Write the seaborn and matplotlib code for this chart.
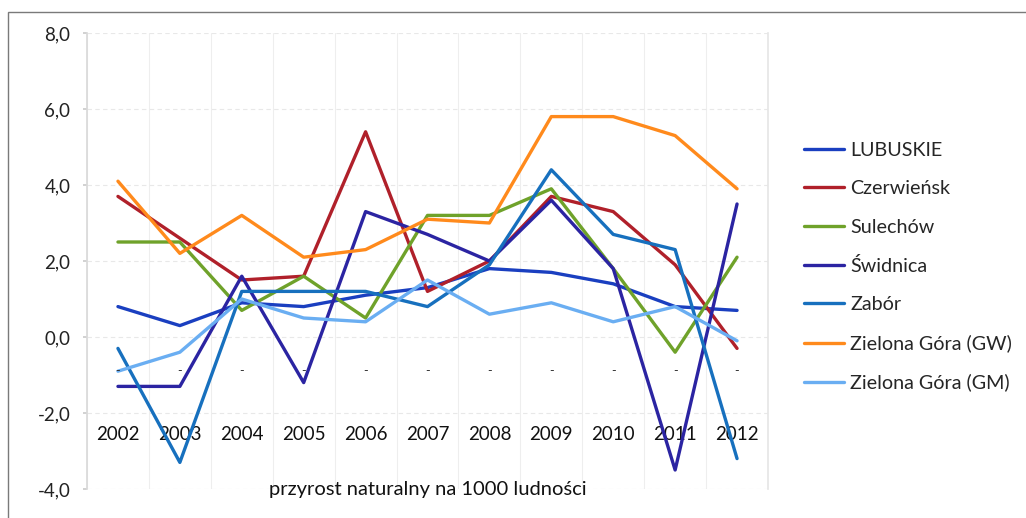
import numpy as np
import pandas as pd
import matplotlib
matplotlib.use("Agg")
import matplotlib.pyplot as plt
import seaborn as sns
from matplotlib.ticker import FuncFormatter, FixedLocator
from matplotlib.patches import Rectangle

years = ["2002", "2003", "2004", "2005", "2006", "2007", "2008", "2009", "2010", "2011", "2012"]

lubuskie = [0.8, 0.3, 0.9, 0.8, 1.1, 1.3, 1.8, 1.7, 1.4, 0.8, 0.7]
czerwiensk = [3.7, 2.6, 1.5, 1.6, 5.4, 1.2, 2.0, 3.7, 3.3, 1.9, -0.3]
sulechow = [2.5, 2.5, 0.7, 1.6, 0.5, 3.2, 3.2, 3.9, 1.8, -0.4, 2.1]
swidnica = [-1.3, -1.3, 1.6, -1.2, 3.3, 2.7, 2.0, 3.6, 1.8, -3.5, 3.5]
zabor = [-0.3, -3.3, 1.2, 1.2, 1.2, 0.8, 1.9, 4.4, 2.7, 2.3, -3.2]
zg_gw = [4.1, 2.2, 3.2, 2.1, 2.3, 3.1, 3.0, 5.8, 5.8, 5.3, 3.9]
zg_gm = [-0.9, -0.4, 1.0, 0.5, 0.4, 1.5, 0.6, 0.9, 0.4, 0.8, -0.1]

series_names = ["LUBUSKIE", "Czerwieńsk", "Sulechów", "Świdnica", "Zabór",
                "Zielona Góra (GW)", "Zielona Góra (GM)"]
series_values = [lubuskie, czerwiensk, sulechow, swidnica, zabor, zg_gw, zg_gm]
colors = ["#1A3FC0", "#B0202A", "#6FA22A", "#2B24A2", "#1770BE", "#FF8A1C", "#6AAEF2"]

y_ticks = [-4.0, -2.0, 0.0, 2.0, 4.0, 6.0, 8.0]
x_title = "przyrost naturalny na 1000 ludności"

rows = []
for name, vals in zip(series_names, series_values):
    for i, v in enumerate(vals):
        rows.append({"idx": i, "value": v, "series": name})
df = pd.DataFrame(rows)

sns.set_theme(style="white")
plt.rcParams["font.family"] = ["Lato", "DejaVu Sans"]

fig = plt.figure(figsize=(10.26, 5.18), dpi=100)
ax = fig.add_axes([87/1026, 1 - 489/518, (768-87)/1026, (489-33)/518])

sns.lineplot(data=df, x="idx", y="value", hue="series", hue_order=series_names,
             palette=dict(zip(series_names, colors)), linewidth=2.4, ax=ax,
             legend=True)

ax.set_xlim(-0.5, len(years) - 0.5)
ax.set_ylim(min(y_ticks), max(y_ticks))
ax.set_yticks(y_ticks)
ax.yaxis.set_major_formatter(FuncFormatter(lambda v, p: f"{v:.1f}".replace(".", ",")))
ax.set_xticks(range(len(years)))
ax.set_xticklabels(years)
ax.xaxis.set_minor_locator(FixedLocator(np.arange(-0.5, len(years), 1.0)))

ax.grid(False)
ax.grid(axis="y", which="major", color="#E8E8E8", linewidth=0.8, linestyle=(0, (4, 3)))
ax.grid(axis="x", which="minor", color="#EEEEEE", linewidth=0.8)

ax.spines["top"].set_visible(False)
ax.spines["left"].set_color("#DADADA")
ax.spines["right"].set_color("#E6E6E6")
ax.spines["bottom"].set_position(("data", -2.0))
ax.spines["bottom"].set_visible(False)

ax.tick_params(axis="y", which="major", length=3, color="#CCCCCC", pad=9,
               labelsize=13.5, labelcolor="#222222", direction="out", left=True)
ax.tick_params(axis="x", which="both", length=0, pad=9, labelsize=13.5, labelcolor="#111111")
ax.set_xlabel("")
ax.set_ylabel("")

for i in range(len(years)):
    ax.text(i, -0.9, "-", ha="center", va="center", fontsize=9, color="#333333")

ax.text(0.5, -0.002, x_title, transform=ax.transAxes, ha="center", va="center",
        fontsize=14.5, color="#111111")

handles, labels = ax.get_legend_handles_labels()
leg = ax.legend(handles, labels, loc="upper left",
                bbox_to_anchor=(804/1026, 1 - 142/518), bbox_transform=fig.transFigure,
                frameon=False, fontsize=14.2, handlelength=2.05, handletextpad=0.3,
                labelspacing=1.08, borderpad=0, borderaxespad=0)
for line in leg.get_lines():
    line.set_linewidth(2.4)

fig.add_artist(Rectangle((8/1026, -0.1), 1.2, 1 - 12/518 + 0.1, transform=fig.transFigure,
                         fill=False, edgecolor="#7A7A7A", linewidth=1.0, clip_on=False))

fig.savefig("out.png", dpi=100, facecolor="white")
